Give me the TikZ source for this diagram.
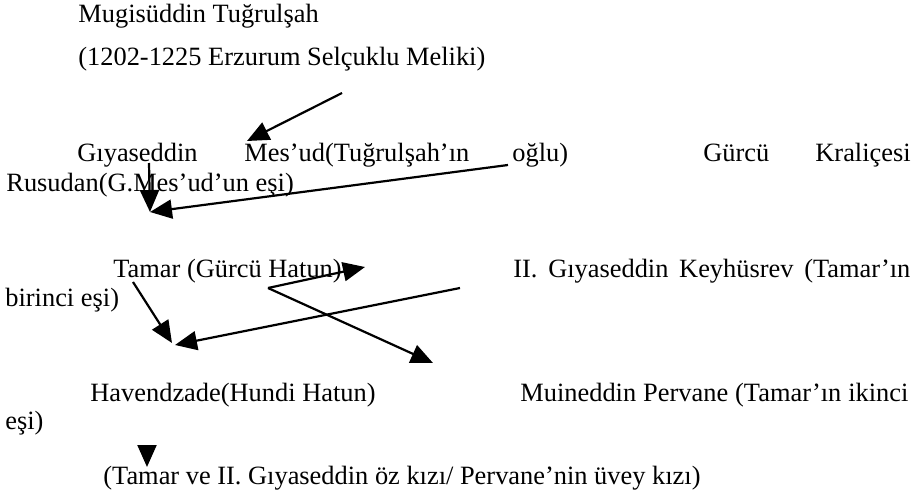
\documentclass[tikz,border=0pt]{standalone}
\usepackage{fontspec}
\setmainfont{Liberation Serif}
\usetikzlibrary{arrows.meta}

\tikzset{
  txt/.style={anchor=base west, inner sep=0pt, font=\fontsize{13.2}{16}\selectfont},
  arr/.style={line width=1.1pt, -{Triangle[length=11pt,width=9.5pt]}}
}

\begin{document}
\begin{tikzpicture}[x=0.5pt,y=-0.5pt]
                            \fill[white] (0,0) rectangle (920,496);
                            \useasboundingbox (0,0) rectangle (920,496);
                            \node[txt] (tugrul) at (78,23) {Mugisüddin Tuğrulşah};
                            \node[txt] (melik) at (78,66) {(1202-1225 Erzurum Selçuklu Meliki)};
                            \node[txt] (giyas) at (77,162) {Gıyaseddin};
                            \node[txt] (mesud) at (244,162) {Mes’ud(Tuğrulşah’ın};
                            \node[txt] (oglu) at (512,162) {oğlu)};
                            \node[txt] (gurcu) at (703,162) {Gürcü};
                            \node[txt] (kralice) at (815,162) {Kraliçesi};
                            \node[txt] (rusudan) at (6,192) {Rusudan(G.Mes’ud’un eşi)};
                            \node[txt] (tamar) at (113,278) {Tamar (Gürcü Hatun)};
                            \node[txt] (keyhusrev) at (513,278) {\makebox[198.5pt][s]{II. Gıyaseddin Keyhüsrev (Tamar’ın}};
                            \node[txt] (birinci) at (5,307) {birinci eşi)};
                            \node[txt] (havend) at (90,401) {Havendzade(Hundi Hatun)};
                            \node[txt] (pervane) at (520,401) {\makebox[194pt][s]{Muineddin Pervane (Tamar’ın ikinci}};
                            \node[txt] (ikinci) at (5,429) {eşi)};
                            \node[txt] (kizi) at (103,484) {(Tamar ve II. Gıyaseddin öz kızı/ Pervane’nin üvey kızı)};
                            \coordinate (a1) at (342,93);
                            \coordinate (b1) at (247,141);
                            \coordinate (a2) at (149,163);
                            \coordinate (a3) at (508,165);
                            \coordinate (b2) at (150,212);
                            \coordinate (a4) at (133,282);
                            \coordinate (b4) at (172,343);
                            \coordinate (a5) at (460,288);
                            \coordinate (b5) at (175,345);
                            \coordinate (v) at (268,288);
                            \coordinate (b6) at (365,267);
                            \coordinate (b7) at (433,363);
                            \coordinate (a8) at (147,445);
                            \coordinate (b8) at (147,467);
                            \draw[arr] (a1) -- (b1);
                            \draw[arr] (a2) -- (b2);
                            \draw[arr] (a3) -- (b2);
                            \draw[arr] (a4) -- (b4);
                            \draw[arr] (a5) -- (b5);
                            \draw[arr] (v) -- (b6);
                            \draw[arr] (v) -- (b7);
                            \draw[arr] (a8) -- (b8);
                        \end{tikzpicture}
\end{document}
